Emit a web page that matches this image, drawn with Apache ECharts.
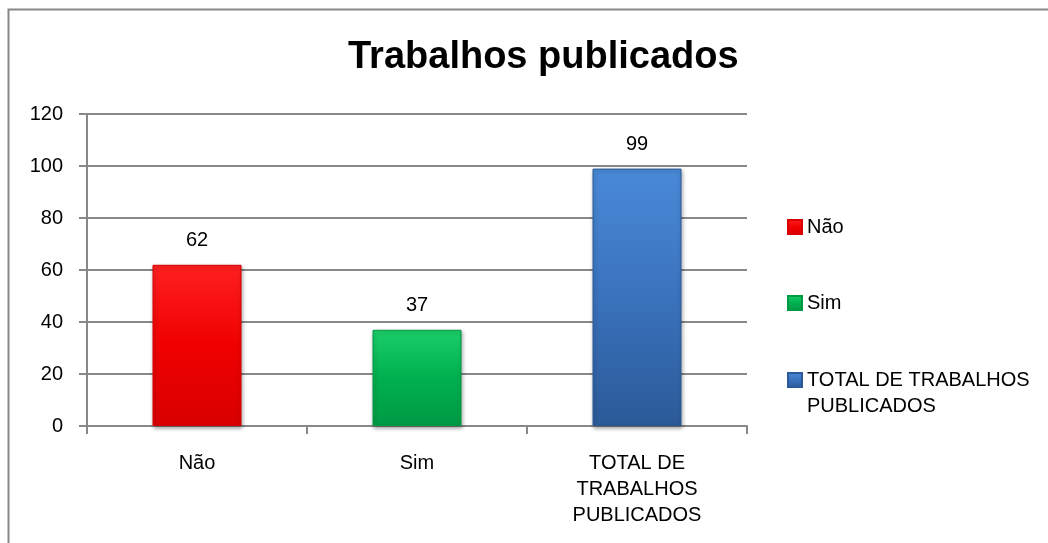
<!DOCTYPE html>
<html>
<head>
<meta charset="utf-8">
<script src="https://cdn.jsdelivr.net/npm/echarts@6/dist/echarts.min.js"></script>
<style>
  html, body { margin: 0; padding: 0; background: #fff; }
  #chart { width: 1048px; height: 543px; }
</style>
</head>
<body>
<div id="chart"></div>
<script>
const categories = ['Não', 'Sim', 'TOTAL DE\nTRABALHOS\nPUBLICADOS']
const seriesNames = ['Não', 'Sim', 'TOTAL DE TRABALHOS\nPUBLICADOS']
const values = [62, 37, 99]
const yTicks = [0, 20, 40, 60, 80, 100, 120]

const font = '"Liberation Sans", Arial, sans-serif'

// cores com leve efeito de bisel
const colors = [
  ['#ff2020', '#f00000', '#d80000'],
  ['#1ccf6a', '#00b050', '#009a44'],
  ['#4a8ad8', '#3a72bd', '#2c5a98']
]

function grad(c) {
  return new echarts.graphic.LinearGradient(0, 0, 0, 1, [
    { offset: 0, color: c[0] },
    { offset: 0.5, color: c[1] },
    { offset: 1, color: c[2] }
  ])
}

const chart = echarts.init(document.getElementById('chart'))

const series = seriesNames.map((name, i) => {
  return {
    name: name,
    type: 'bar',
    stack: 'all',
    barWidth: 89,
    data: values.map((v, j) => (j === i ? v : '-')),
    itemStyle: {
      color: grad(colors[i]),
      borderColor: colors[i][2],
      borderWidth: 1,
      shadowColor: 'rgba(0,0,0,0.35)',
      shadowBlur: 4,
      shadowOffsetX: 1,
      shadowOffsetY: 2
    },
    label: {
      show: true,
      position: 'top',
      distance: 14,
      fontFamily: font,
      fontSize: 20,
      color: '#000'
    }
  }
})

const legendText = {
  fontFamily: font,
  fontSize: 20,
  color: '#000',
  lineHeight: 26
}

// uma legenda por item para fixar a posição de cada um
const legendTops = [214, 290, 341]
const legends = seriesNames.map((name, i) => {
  return {
    orient: 'vertical',
    left: 787,
    top: legendTops[i],
    padding: 0,
    itemWidth: 14,
    itemHeight: 14,
    itemGap: 5,
    icon: 'rect',
    // linha vazia no início para alinhar o ícone com a primeira linha
    formatter: i === 2 ? (n => '\n' + n) : '{name}',
    textStyle: legendText,
    data: [name]
  }
})

chart.setOption({
  animation: false,
  title: {
    text: 'Trabalhos publicados',
    left: 343,
    top: 34,
    textStyle: {
      fontFamily: font,
      fontSize: 38,
      fontWeight: 'bold',
      color: '#000'
    }
  },
  legend: legends,
  graphic: [{
    type: 'rect',
    shape: { x: 8.5, y: 9.5, width: 1100, height: 600 },
    style: { fill: 'none', stroke: '#888', lineWidth: 2 },
    silent: true
  }],
  grid: {
    left: 87,
    right: 301,
    top: 114,
    bottom: 117
  },
  xAxis: {
    type: 'category',
    data: categories,
    axisLine: { lineStyle: { color: '#888', width: 2 } },
    axisTick: { show: true, length: 8, lineStyle: { color: '#888', width: 2 } },
    axisLabel: {
      fontFamily: font,
      fontSize: 20,
      color: '#000',
      margin: 24,
      lineHeight: 26
    }
  },
  yAxis: {
    type: 'value',
    min: 0,
    max: yTicks[yTicks.length - 1],
    interval: 20,
    axisLine: { show: true, lineStyle: { color: '#888', width: 2 } },
    axisTick: { show: true, length: 8, lineStyle: { color: '#888', width: 2 } },
    splitLine: { lineStyle: { color: '#888', width: 2 } },
    axisLabel: {
      fontFamily: font,
      fontSize: 20,
      color: '#000',
      margin: 24
    }
  },
  series: series
})
</script>
</body>
</html>
